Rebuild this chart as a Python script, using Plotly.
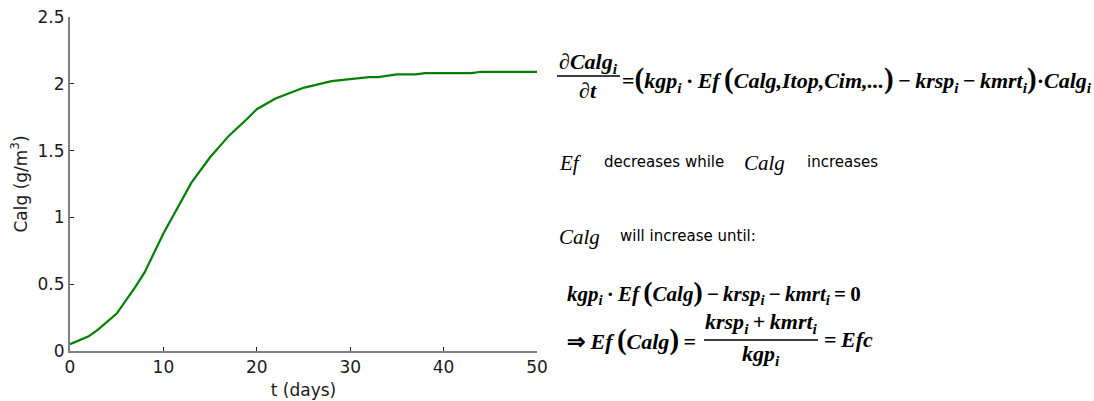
import plotly.graph_objects as go

# Algae concentration over time
t_days = [0, 2, 3, 5, 7, 8, 10, 12, 13, 15, 17, 19, 20, 22, 25, 28, 32, 33, 35, 37, 38, 43, 44, 50]
calg = [0.05, 0.11, 0.16, 0.28, 0.48, 0.59, 0.88, 1.13, 1.26, 1.45, 1.61, 1.74, 1.81, 1.89,
        1.97, 2.02, 2.05, 2.05, 2.07, 2.07, 2.08, 2.08, 2.09, 2.09]

x_ticks = [0, 10, 20, 30, 40, 50]
y_ticks = [0, 0.5, 1, 1.5, 2, 2.5]
y_tick_text = ["0", "0.5", "1", "1.5", "2", "2.5"]

W, H = 1094, 401
ML, MR, MT, MB = 70, 557, 17, 50
PW, PH = W - ML - MR, H - MT - MB

SANS = "DejaVu Sans"
SERIF = "Liberation Serif"
EQ = 22  # equation font size
TS = "\u2009"  # thin space


def px(x):
    return (x - ML) / PW


def py(y):
    return (H - MB - y) / PH


fig = go.Figure()
fig.add_trace(go.Scatter(x=t_days, y=calg, mode="lines",
                         line=dict(color="#008000", width=2.2), showlegend=False))

annotations = []
shapes = []


def text(x, y, s, size=EQ, family=SERIF, anchor="left", bold=False):
    if bold:
        s = "<b>" + s + "</b>"
    annotations.append(dict(x=px(x), y=py(y), xref="paper", yref="paper", text=s,
                            showarrow=False, xanchor=anchor, yanchor="middle",
                            font=dict(family=family, size=size, color="black")))


def bar(x0, x1, y):
    shapes.append(dict(type="line", xref="paper", yref="paper", x0=px(x0), x1=px(x1),
                       y0=py(y), y1=py(y), line=dict(color="black", width=1.3)))


def big(s, size=29):
    return '<span style="font-size:%dpx">%s</span>' % (size, s)


sub_i = "<sub><i>i</i></sub>"


def op(s):
    return TS + s + TS


# dCalg_i / dt = (...)
text(588, 63, "∂<i>Calg</i>" + sub_i, bold=True, anchor="center")
bar(557, 620, 76)
text(588, 91, "∂<i>t</i>", bold=True, anchor="center")
text(620, 79,
     "=" + big("(") + "<i>kgp</i>" + sub_i + op("·") + "<i>Ef</i>" + TS + big("(") +
     "<i>Calg,Itop,Cim,...</i>" + big(")") + op("−") + "<i>krsp</i>" + sub_i +
     op("−") + "<i>kmrt</i>" + sub_i + big(")") + "·<i>Calg</i>" + sub_i,
     bold=True)

# Explanatory lines
text(557, 163, "<i>Ef</i>", size=21)
text(602, 162, "decreases while", size=15, family=SANS)
text(742, 163, "<i>Calg</i>", size=21)
text(805, 162, "increases", size=15, family=SANS)

text(557, 237, "<i>Calg</i>", size=21)
text(618, 236, "will increase until:", size=15, family=SANS)

# Equilibrium condition
text(565, 292,
     "<i>kgp</i>" + sub_i + op("·") + "<i>Ef</i>" + TS + big("(", 28) + "<i>Calg</i>" +
     big(")", 28) + op("−") + "<i>krsp</i>" + sub_i + op("−") + "<i>kmrt</i>" + sub_i +
     op("=") + "0",
     size=21, bold=True)

text(565, 339, "⇒ <i>Ef</i>" + TS + big("(") + "<i>Calg</i>" + big(")") + TS + "=",
     bold=True)
text(761, 323, "<i>krsp</i>" + sub_i + op("+") + "<i>kmrt</i>" + sub_i, bold=True,
     anchor="center")
bar(704, 818, 340)
text(761, 355, "<i>kgp</i>" + sub_i, bold=True, anchor="center")
text(822, 339, "=" + TS + "<i>Efc</i>", bold=True)

fig.update_layout(
    width=W, height=H,
    margin=dict(l=ML, r=MR, t=MT, b=MB, pad=0, autoexpand=False),
    paper_bgcolor="white", plot_bgcolor="white",
    font=dict(family=SANS, size=17, color="#1a1a1a"),
    annotations=annotations, shapes=shapes,
    xaxis=dict(range=[0, 50], tickvals=x_ticks, ticks="inside", ticklen=4,
               tickcolor="#222", showline=True, linecolor="#808080", linewidth=2,
               showgrid=False, zeroline=False, automargin=False,
               title=dict(text="t (days)", standoff=8, font=dict(size=17))),
    yaxis=dict(range=[0, 2.5], tickvals=y_ticks, ticktext=y_tick_text, ticks="inside",
               ticklen=4, tickcolor="#222", showline=True, linecolor="#808080",
               linewidth=2, showgrid=False, zeroline=False, automargin=False,
               title=dict(text="Calg (g/m<sup>3</sup>)", standoff=6, font=dict(size=17))),
)

fig.write_html("out.html")
